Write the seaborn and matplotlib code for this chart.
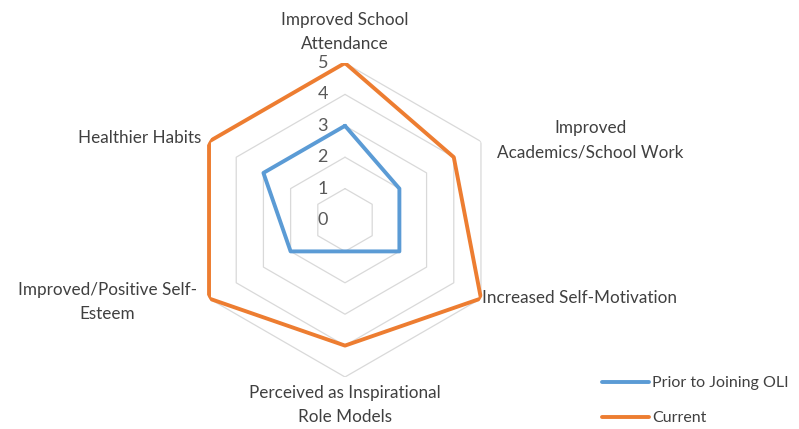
import numpy as np
import pandas as pd
import matplotlib
matplotlib.use("Agg")
import matplotlib.pyplot as plt
from matplotlib.lines import Line2D
import seaborn as sb

categories = ["Improved School\nAttendance",
              "Improved\nAcademics/School Work",
              "Increased Self-Motivation",
              "Perceived as Inspirational\nRole Models",
              "Improved/Positive Self-\nEsteem",
              "Healthier Habits"]
prior = [3, 2, 2, 1, 2, 3]
current = [5, 4, 5, 4, 5, 5]
series_names = ["Prior to Joining OLI", "Current"]
colors = ["#5B9BD5", "#ED7D31"]
levels = [0, 1, 2, 3, 4, 5]

sb.set_style("white")
plt.rcParams['font.family'] = ['Lato', 'DejaVu Sans']
text_color = "#404040"

n = len(categories)
theta = np.linspace(0, 2 * np.pi, n, endpoint=False)
theta_closed = np.append(theta, theta[0])

# long-form table, loop closed by repeating the first point
rows = []
for name, vals in zip(series_names, [prior, current]):
    vals_closed = list(vals) + [vals[0]]
    for i, (t, v) in enumerate(zip(theta_closed, vals_closed)):
        rows.append({"series": name, "order": i, "theta": t, "value": v})
df = pd.DataFrame(rows)

W, H = 799, 429
fig = plt.figure(figsize=(W / 100, H / 100), dpi=100)
cx, cy, R = 345, 220, 157
ax = fig.add_axes([(cx - R) / W, (H - cy - R) / H, 2 * R / W, 2 * R / H],
                  projection="polar")
ax.set_theta_offset(np.pi / 2)
ax.set_theta_direction(-1)
ax.set_ylim(0, max(levels))
ax.grid(False)
ax.spines["polar"].set_visible(False)
ax.set_xticks([])
ax.set_yticks([])
ax.patch.set_alpha(0)

# hexagonal grid rings (no spokes, like the original)
for lv in levels[1:]:
    ax.plot(theta_closed, [lv] * (n + 1), color="#D9D9D9", lw=0.9, zorder=1)

sb.lineplot(data=df, x="theta", y="value", hue="series", sort=False,
            palette=dict(zip(series_names, colors)), linewidth=2.8,
            estimator=None, units="series", legend=False, ax=ax, zorder=3)
ax.set_xlabel("")
ax.set_ylabel("")

# radial value labels
for lv in levels:
    ax.annotate(str(lv), xy=(0, lv), xytext=(-16, 0), textcoords="offset points",
                ha="center", va="center", fontsize=13, color="#595959")

# category labels
label_pos = [(345, 32, "center"), (590, 140, "center"), (482, 298, "left"),
             (345, 405, "center"), (107, 302, "center"), (201, 138, "right")]
for lab, (x, y, ha) in zip(categories, label_pos):
    fig.text(x / W, 1 - y / H, lab, ha=ha, va="center", fontsize=12.3,
             color=text_color, linespacing=1.65, multialignment="center")

handles = [Line2D([], [], color=c, lw=2.8) for c in colors]
fig.legend(handles, series_names, loc="lower left",
           bbox_to_anchor=(588 / W, -0.025), frameon=False, fontsize=11.5,
           labelcolor=text_color, handlelength=2.9, handletextpad=0.2,
           labelspacing=1.3)

fig.savefig("out.png", dpi=100)
